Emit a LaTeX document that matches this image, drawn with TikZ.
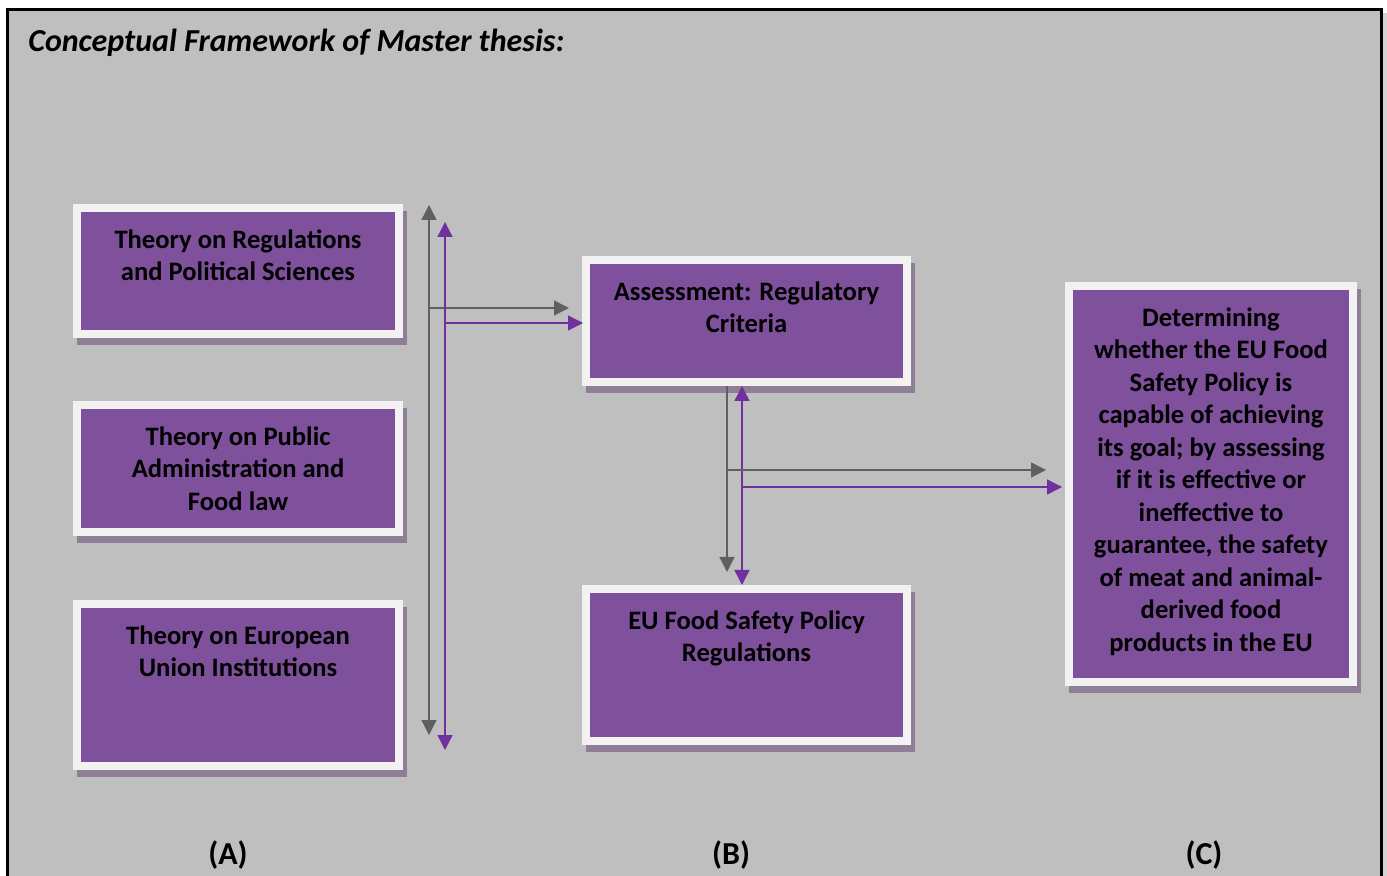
\documentclass[tikz,border=0pt]{standalone}
\usepackage{fontspec}
\setmainfont{Carlito}
\usetikzlibrary{arrows.meta,calc}

\definecolor{frameBg}{RGB}{191,191,191}
\definecolor{frameShade}{RGB}{212,212,212}
\definecolor{boxFill}{RGB}{127,80,155}
\definecolor{boxEdge}{RGB}{242,242,242}
\definecolor{boxShade}{RGB}{142,126,150}
\definecolor{linkGray}{RGB}{96,96,96}
\definecolor{linkPurple}{RGB}{112,48,160}

\pgfdeclarelayer{back}
\pgfdeclarelayer{shade}
\pgfsetlayers{back,shade,main}

\tikzset{
  box/.style={draw=boxEdge, line width=4pt, fill=boxFill, inner sep=0pt},
  boxtext/.style={anchor=north, align=center, inner sep=0pt,
    font=\fontsize{13.3}{16.25}\selectfont\bfseries},
  tag/.style={inner sep=0pt, font=\fontsize{16}{19}\selectfont\bfseries},
  gline/.style={draw=linkGray, line width=0.7pt},
  pline/.style={draw=linkPurple, line width=0.7pt},
  tipend/.style={-{Triangle[length=7.5pt,width=7.5pt]}},
  tipboth/.style={{Triangle[length=7.5pt,width=7.5pt]}-{Triangle[length=7.5pt,width=7.5pt]}},
}

\begin{document}
\begin{tikzpicture}[x=0.5pt,y=-0.5pt]
  \useasboundingbox (0,0) rectangle (1387,876);
  \clip (0,0) rectangle (1387,876);

  % page frame
  \begin{pgfonlayer}{back}
    \fill[white] (0,0) rectangle (1387,876);
    \fill[frameShade] (1383,13) rectangle (1387,876);
    \filldraw[fill=frameBg, draw=black, line width=1.5pt] (7.5,9.5) rectangle (1381.5,900);
  \end{pgfonlayer}

  \node[anchor=west, inner sep=0pt, font=\fontsize{16}{19}\selectfont\bfseries\itshape]
    (title) at (28,43) {Conceptual Framework of Master thesis:};

  % column A
  \node[box, minimum width=161pt, minimum height=63pt] (a1) at (238,271) {};
  \node[box, minimum width=161pt, minimum height=63.5pt] (a2) at (238,468.5) {};
  \node[box, minimum width=161pt, minimum height=81pt] (a3) at (238,685) {};
  % column B
  \node[box, minimum width=160.5pt, minimum height=61pt] (b1) at (746.5,321) {};
  \node[box, minimum width=160.5pt, minimum height=76pt] (b2) at (746.5,665) {};
  % column C
  \node[box, minimum width=142pt, minimum height=198pt] (c) at (1211,484) {};

  % drop shadows (anchors sit on the outer edge of the white frame)
  \begin{pgfonlayer}{shade}
    \foreach \b in {a1,a2,a3,b1,b2,c}
      \fill[boxShade] ($(\b.south west)+(2pt,-3.5pt)$) rectangle ($(\b.north east)+(2pt,-3.5pt)$);
  \end{pgfonlayer}

  % box texts
  \node[boxtext] (a1t) at ([yshift=-12.5pt]a1.north) {Theory on Regulations\\and Political Sciences};
  \node[boxtext] (a2t) at ([yshift=-12.5pt]a2.north) {Theory on Public\\Administration and\\Food law};
  \node[boxtext] (a3t) at ([yshift=-12.5pt]a3.north) {Theory on European\\Union Institutions};
  \node[boxtext] (b1t) at ([yshift=-12.5pt]b1.north) {Assessment: Regulatory\\Criteria};
  \node[boxtext] (b2t) at ([yshift=-12.5pt]b2.north) {EU Food Safety Policy\\Regulations};
  \node[boxtext] (ct) at ([yshift=-12.5pt]c.north) {Determining\\whether the EU Food\\Safety Policy is\\capable of achieving\\its goal; by assessing\\if it is effective or\\ineffective to\\guarantee, the safety\\of meat and animal-\\derived food\\products in the EU};

  % column labels
  \node[tag] (la) at (228,855) {(A)};
  \node[tag] (lb) at (731,855) {(B)};
  \node[tag] (lc) at (1204,855) {(C)};

  % connectors from column A to B
  \coordinate (gTop) at (429,205);
  \coordinate (gBot) at (429,735);
  \coordinate (pTop) at (445,222);
  \coordinate (pBot) at (445,750);
  \coordinate (gToB) at (569,308);
  \coordinate (pToB) at (583,323);
  \draw[gline, tipboth] (gTop) -- (gBot);
  \draw[gline, tipend] (gTop |- gToB) -- (gToB);
  \draw[pline, tipboth] (pTop) -- (pBot);
  \draw[pline, tipend] (pTop |- pToB) -- (pToB);

  % connectors from B to C
  \coordinate (gDown) at (727,572);
  \coordinate (pDown) at (742,585);
  \coordinate (gToC) at (1046,470);
  \coordinate (pToC) at (1062,487);
  \draw[gline, tipend] (gDown |- b1.south) -- (gDown);
  \draw[pline, tipboth] (pDown |- b1.south) -- (pDown |- b2.north);
  \draw[gline, tipend] (gDown |- gToC) -- (gToC);
  \draw[pline, tipend] (pDown |- pToC) -- (pToC);
\end{tikzpicture}
\end{document}
